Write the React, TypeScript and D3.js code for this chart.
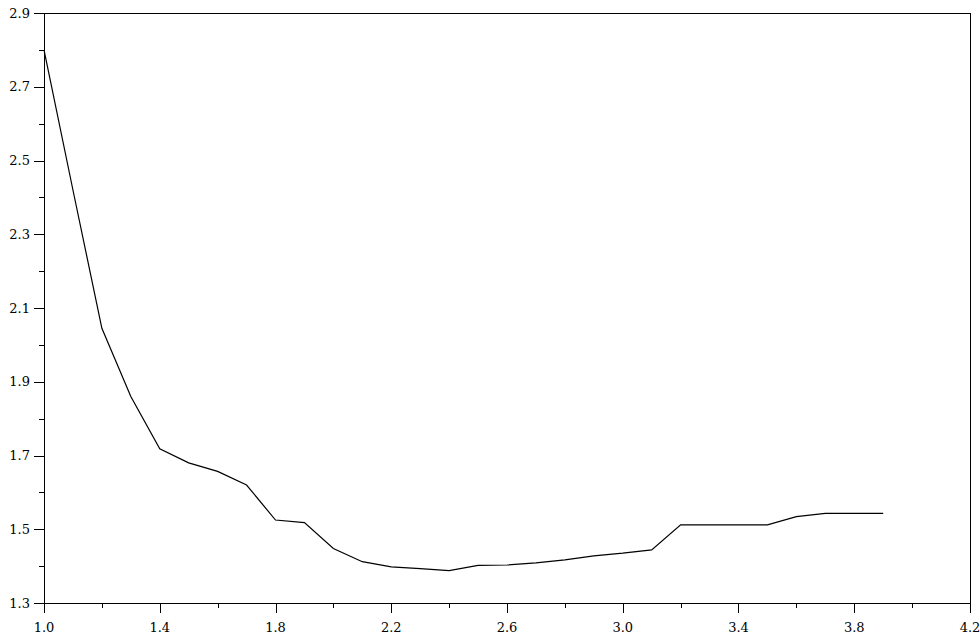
import * as d3 from "d3";

const W = 980;
const H = 637;
const ML = 44;
const MR = 10;
const MT = 13;
const MB = 34;

// series
const xValues = [
  1.0, 1.1, 1.2, 1.3, 1.4, 1.5, 1.6, 1.7, 1.8, 1.9, 2.0, 2.1, 2.2, 2.3, 2.4,
  2.5, 2.6, 2.7, 2.8, 2.9, 3.0, 3.1, 3.2, 3.3, 3.4, 3.5, 3.6, 3.7, 3.8, 3.9,
];
const yValues = [
  2.8, 2.42, 2.045, 1.86, 1.718, 1.68, 1.657, 1.62, 1.525, 1.518, 1.448,
  1.412, 1.398, 1.393, 1.388, 1.402, 1.403, 1.409, 1.417, 1.428, 1.435,
  1.444, 1.512, 1.512, 1.512, 1.512, 1.534, 1.543, 1.543, 1.543,
];

const xTickLabels = ["1.0", "1.4", "1.8", "2.2", "2.6", "3.0", "3.4", "3.8", "4.2"];
const xMinorTicks = [1.2, 1.6, 2.0, 2.4, 2.8, 3.2, 3.6, 4.0];
const yTickLabels = ["1.3", "1.5", "1.7", "1.9", "2.1", "2.3", "2.5", "2.7", "2.9"];
const yMinorTicks = [1.4, 1.6, 1.8, 2.0, 2.2, 2.4, 2.6, 2.8];

export default function App() {
  const x = d3.scaleLinear().domain([1.0, 4.2]).range([ML, W - MR]);
  const y = d3.scaleLinear().domain([1.3, 2.9]).range([H - MB, MT]);

  const line = d3
    .line<number>()
    .x((_, i) => x(xValues[i]))
    .y((d) => y(d));

  const px = (v: number) => Math.round(v) + 0.5;

  return (
    <svg
      width={W}
      height={H}
      viewBox={`0 0 ${W} ${H}`}
      style={{
        position: "absolute",
        left: 0,
        top: 0,
        background: "#fff",
        font: "13px 'DejaVu Serif', serif",
      }}
    >
      <g stroke="#000" strokeWidth={1} fill="none" shapeRendering="crispEdges">
        {/* frame */}
        <rect
          x={px(x(1.0))}
          y={px(y(2.9))}
          width={Math.round(x(4.2)) - Math.round(x(1.0))}
          height={Math.round(y(1.3)) - Math.round(y(2.9))}
          strokeWidth={1.5}
        />
        {xTickLabels.map((t) => (
          <line
            key={`xt${t}`}
            x1={px(x(+t))}
            x2={px(x(+t))}
            y1={y(1.3)}
            y2={y(1.3) + 10}
          />
        ))}
        {xMinorTicks.map((t) => (
          <line
            key={`xm${t}`}
            x1={px(x(t))}
            x2={px(x(t))}
            y1={y(1.3)}
            y2={y(1.3) + 5}
          />
        ))}
        {yTickLabels.map((t) => (
          <line
            key={`yt${t}`}
            x1={x(1.0) - 10}
            x2={x(1.0)}
            y1={px(y(+t))}
            y2={px(y(+t))}
          />
        ))}
        {yMinorTicks.map((t) => (
          <line
            key={`ym${t}`}
            x1={x(1.0) - 5}
            x2={x(1.0)}
            y1={px(y(t))}
            y2={px(y(t))}
          />
        ))}
      </g>

      <g fill="#000">
        {xTickLabels.map((t) => (
          <text key={`xl${t}`} x={x(+t)} y={y(1.3) + 29} textAnchor="middle">
            {t}
          </text>
        ))}
        {yTickLabels.map((t) => (
          <text
            key={`yl${t}`}
            x={x(1.0) - 14}
            y={y(+t)}
            dy="0.35em"
            textAnchor="end"
          >
            {t}
          </text>
        ))}
      </g>

      <path d={line(yValues) ?? ""} fill="none" stroke="#000" strokeWidth={1.2} />
    </svg>
  );
}
